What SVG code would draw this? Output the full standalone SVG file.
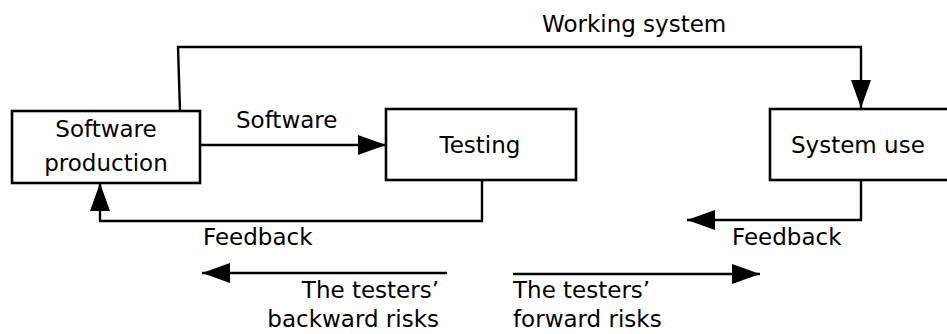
<svg xmlns="http://www.w3.org/2000/svg" width="947" height="334" viewBox="0 0 947 334">
  <style>
    .box { fill: #ffffff; stroke: #000000; stroke-width: 2.6; }
    .wire { fill: none; stroke: #000000; stroke-width: 2.4; stroke-linejoin: miter; }
    text { font-family: "DejaVu Sans", Verdana, sans-serif; font-size: 23px; fill: #000000; }
    .mid { text-anchor: middle; }
    .end { text-anchor: end; }
  </style>
  <defs>
    <marker id="head" markerUnits="userSpaceOnUse" markerWidth="28" markerHeight="20" refX="28" refY="10" orient="auto">
      <path d="M0,0 L28,10 L0,20 Z" fill="#000000"/>
    </marker>
  </defs>
  <rect width="947" height="334" fill="#ffffff"/>

  <g id="connectors">
    <!-- Working system: production to system use -->
    <path class="wire" d="M180,111 L178,47 L861,47 L861,108" marker-end="url(#head)"/>
    <!-- Software: production to testing -->
    <path class="wire" d="M200,145 L386,145" marker-end="url(#head)"/>
    <!-- Feedback from testing back to production -->
    <path class="wire" d="M482,180 L482,221 L100,221 L100,183" marker-end="url(#head)"/>
    <!-- Feedback out of system use -->
    <path class="wire" d="M861,180 L861,220 L687,220" marker-end="url(#head)"/>
    <!-- Risk arrows -->
    <path class="wire" d="M447,273 L202,273" marker-end="url(#head)"/>
    <path class="wire" d="M513,274 L760,274" marker-end="url(#head)"/>
    <text x="542" y="32">Working system</text>
    <text x="236" y="128">Software</text>
    <text x="203" y="245">Feedback</text>
    <text x="732" y="245">Feedback</text>
    <text class="end" x="439" y="298">The testers’</text>
    <text class="end" x="439" y="327">backward risks</text>
    <text x="513" y="298">The testers’</text>
    <text x="513" y="327">forward risks</text>
  </g>

  <g id="software-production">
    <rect class="box" x="12" y="111" width="188" height="72"/>
    <text class="mid" x="106" y="137">Software</text>
    <text class="mid" x="106" y="171">production</text>
  </g>

  <g id="testing">
    <rect class="box" x="386" y="109" width="190" height="71"/>
    <text class="mid" x="480" y="153">Testing</text>
  </g>

  <g id="system-use">
    <rect class="box" x="770" y="109" width="200" height="71"/>
    <text x="791" y="153">System use</text>
  </g>
</svg>
